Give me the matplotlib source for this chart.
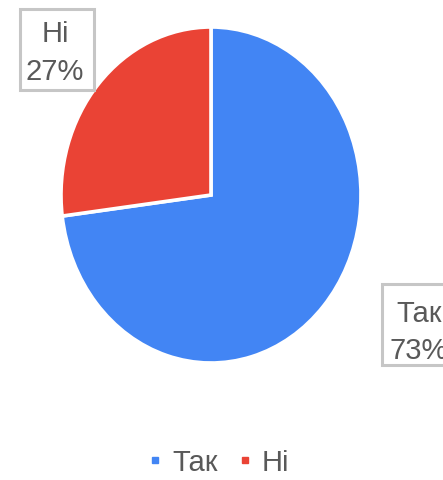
import matplotlib
matplotlib.use("Agg")
import matplotlib.pyplot as plt
from matplotlib.patches import Rectangle
from matplotlib.lines import Line2D

labels = ["Так", "Ні"]
values = [73, 27]
colors = ["#4285F4", "#EA4335"]

W, H = 443, 481
fig = plt.figure(figsize=(W / 100, H / 100), dpi=100)
plt.rcParams['font.family'] = ['Liberation Sans', 'DejaVu Sans']
TXT = "#595959"

def fx(x):
    return x / W

def fy(y):
    return 1 - y / H

# pie axes covering the (slightly elliptical) pie bounds
left, right, top, bottom = 61, 361, 28, 364
ax = fig.add_axes([fx(left), fy(bottom), (right - left) / W, (bottom - top) / H])
ax.pie(values, colors=colors, startangle=90, counterclock=False,
       wedgeprops=dict(edgecolor="white", linewidth=2.6))
ax.set_aspect('auto')
ax.set_xlim(-1, 1)
ax.set_ylim(-1, 1)
ax.axis('off')

total = sum(values)
# label boxes (pixel layout)
boxes = {
    "Ні": dict(box=(19.5, 9.5, 74, 81), cx=55, base=(42, 80)),
    "Так": dict(box=(381.5, 284.5, 90, 81), cx=419, base=(322, 359)),
}
for lab, val in zip(labels, values):
    b = boxes[lab]
    x0, y0, w, h = b["box"]
    fig.patches.append(Rectangle((fx(x0), fy(y0 + h)), w / W, h / H,
                                 transform=fig.transFigure, fill=True,
                                 facecolor="white", edgecolor="#C6C6C6",
                                 linewidth=2.2))
    pct = f"{round(100 * val / total)}%"
    fig.text(fx(b["cx"]), fy(b["base"][0]), lab, ha="center", va="baseline",
             fontsize=21, color=TXT)
    fig.text(fx(b["cx"]), fy(b["base"][1]), pct, ha="center", va="baseline",
             fontsize=21, color=TXT)

handles = [Line2D([], [], marker='s', linestyle='none', markersize=5,
                  markerfacecolor=c, markeredgecolor=c) for c in colors]
fig.legend(handles, labels, loc="center", bbox_to_anchor=(fx(218), fy(463)),
           ncol=2, frameon=False, fontsize=21, labelcolor=TXT,
           handlelength=0.6, handletextpad=0.3, columnspacing=0.6,
           borderaxespad=0, borderpad=0)

fig.savefig("out.png", dpi=100)
